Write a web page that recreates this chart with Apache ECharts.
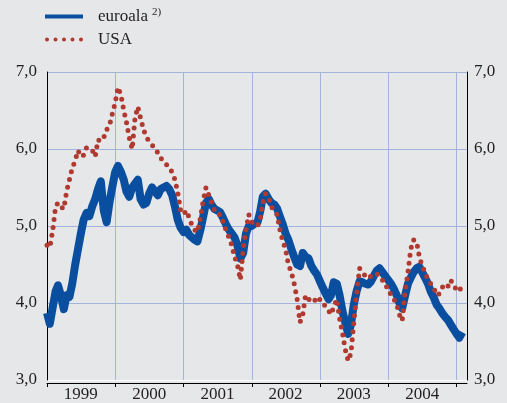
<!DOCTYPE html>
<html><head><meta charset="utf-8">
<script src="https://cdn.jsdelivr.net/npm/echarts@6/dist/echarts.min.js"></script>
<style>html,body{margin:0;padding:0;background:#e6e7e9}#c{width:507px;height:403px}</style>
</head><body><div id="c"></div><script>
// Semimonthly samples (1st and 16th of each month), starting 1999-01-01
const startYear = 1999;
const yearLabels = ['1999','2000','2001','2002','2003','2004'];
const yTicks = [3,4,5,6,7];
const euroala = [
 3.87,3.73,3.95,4.15,4.23,4.10,3.92,4.10,4.08,4.25,4.50,4.70,4.90,5.08,5.17,5.13,5.26,5.35,5.48,5.58,5.20,5.05,5.30,5.50,
 5.70,5.78,5.70,5.60,5.45,5.38,5.50,5.55,5.60,5.35,5.28,5.30,5.42,5.50,5.45,5.40,5.48,5.50,5.52,5.48,5.40,5.25,5.08,4.98,
 4.92,4.95,4.88,4.85,4.82,4.80,4.95,5.12,5.30,5.35,5.27,5.22,5.20,5.18,5.10,5.02,4.95,4.90,4.85,4.75,4.58,4.65,4.90,5.00,
 5.00,5.03,5.05,5.20,5.38,5.42,5.35,5.30,5.28,5.23,5.12,5.02,4.90,4.82,4.70,4.60,4.50,4.48,4.65,4.60,4.58,4.48,4.42,4.37,
 4.28,4.20,4.12,4.05,4.10,4.27,4.25,4.10,3.90,3.75,3.60,3.72,3.98,4.15,4.28,4.27,4.25,4.24,4.28,4.35,4.42,4.45,4.40,4.35,
 4.30,4.25,4.18,4.10,4.00,3.93,4.10,4.25,4.33,4.40,4.45,4.47,4.40,4.33,4.25,4.15,4.07,3.98,3.93,3.87,3.82,3.78,3.72,3.66,
 3.60,3.55,3.62
];
const usa = [
 4.75,4.72,4.95,5.25,5.30,5.25,5.22,5.45,5.60,5.75,5.85,5.98,5.90,5.92,6.02,6.00,5.98,5.90,6.12,6.10,6.15,6.25,6.30,6.45,
 6.60,6.80,6.70,6.50,6.35,6.15,6.00,6.40,6.55,6.40,6.25,6.15,6.10,6.05,6.02,5.95,5.88,5.85,5.80,5.75,5.70,5.60,5.43,5.20,
 5.15,5.20,5.10,5.00,4.95,4.92,5.10,5.33,5.50,5.40,5.30,5.20,5.15,5.15,5.05,4.95,4.85,4.75,4.60,4.50,4.30,4.70,4.95,5.15,
 5.05,5.02,5.00,5.10,5.30,5.42,5.38,5.25,5.20,5.15,4.95,4.80,4.70,4.50,4.40,4.25,4.05,3.75,3.85,4.10,4.05,4.02,4.05,4.00,
 4.05,4.00,3.95,3.90,3.85,3.95,4.05,3.80,3.62,3.40,3.25,3.35,3.75,4.10,4.45,4.40,4.35,4.32,4.35,4.38,4.38,4.35,4.30,4.22,
 4.20,4.10,4.05,3.98,3.85,3.77,4.15,4.40,4.70,4.82,4.80,4.60,4.48,4.40,4.30,4.25,4.20,4.10,4.12,4.20,4.25,4.22,4.30,4.22,
 4.18,4.15,4.25
];

const dates = euroala.map((_, i) => Date.UTC(startYear + Math.floor(i / 24), Math.floor((i % 24) / 2), i % 2 ? 16 : 1));
const pair = arr => arr.map((v, i) => [dates[i], v]);
const tickVals = yearLabels.map(y => Date.UTC(+y, 0, 1)).concat([Date.UTC(2005, 0, 1)]);
const labelVals = yearLabels.map(y => Date.UTC(+y, 6, 1));

const FONT = 'Liberation Serif';
const TXT = '#231f20';
const GRIDC = '#a3b3dd';
const BLUE = '#0a4f9f';
const RED = '#b03a30';
const dotsIcon = 'path://M0,2a2,2 0 1,0 4,0a2,2 0 1,0 -4,0z M8.5,2a2,2 0 1,0 4,0a2,2 0 1,0 -4,0z M17,2a2,2 0 1,0 4,0a2,2 0 1,0 -4,0z M25.5,2a2,2 0 1,0 4,0a2,2 0 1,0 -4,0z M34,2a2,2 0 1,0 4,0a2,2 0 1,0 -4,0z';

const chart = echarts.init(document.getElementById('c'), null, {renderer: 'canvas'});
chart.setOption({
  backgroundColor: '#e6e7e9',
  animation: false,
  legend: {
    orient: 'vertical', left: 40, top: 2, itemWidth: 38, itemHeight: 4, itemGap: 6,
    data: [{name: 'euroala', icon: 'rect'}, {name: 'USA', icon: dotsIcon}],
    formatter: n => n === 'euroala' ? '{a|euroala}{s|2)}' : '{a|USA}',
    textStyle: {
      rich: {
        a: {fontFamily: FONT, fontSize: 17, color: TXT, padding: [0, 0, 0, 10]},
        s: {fontFamily: FONT, fontSize: 11, color: TXT, padding: [0, 0, 8, 4]}
      }
    }
  },
  grid: {left: 47, right: 40, top: 72, bottom: 23},
  xAxis: {
    type: 'value',
    min: Date.UTC(1999, 0, 1),
    max: Date.UTC(2005, 1, 26),
    offset: 3,
    axisLine: {show: true, lineStyle: {color: '#000', width: 1}},
    axisTick: {show: true, customValues: tickVals, length: 4, inside: false, lineStyle: {color: '#000'}},
    axisLabel: {customValues: labelVals, formatter: v => String(new Date(v).getUTCFullYear()),
      fontFamily: FONT, fontSize: 17, color: TXT, margin: 3, showMinLabel: true, showMaxLabel: true},
    splitLine: {show: true, lineStyle: {color: GRIDC, width: 1}}
  },
  yAxis: [{
    type: 'value', min: 3, max: 7, interval: 1, position: 'left',
    axisLine: {show: true, lineStyle: {color: '#000', width: 1}},
    axisTick: {show: false},
    axisLabel: {formatter: v => v.toFixed(1).replace('.', ','), margin: 10, fontFamily: FONT, fontSize: 17, color: TXT},
    splitLine: {show: true, lineStyle: {color: ['#ffffff', GRIDC, GRIDC, GRIDC, GRIDC], width: 1}}
  }, {
    type: 'value', min: 3, max: 7, interval: 1, position: 'right',
    axisLine: {show: true, lineStyle: {color: '#000', width: 1}},
    axisTick: {show: false},
    axisLabel: {formatter: v => v.toFixed(1).replace('.', ','), margin: 7, fontFamily: FONT, fontSize: 17, color: TXT},
    splitLine: {show: false}
  }],
  series: [{
    name: 'euroala', type: 'line', symbol: 'none', data: pair(euroala),
    lineStyle: {color: BLUE, width: 8, join: 'round'}, itemStyle: {color: BLUE}, z: 2
  }, {
    name: 'USA', type: 'line', symbol: 'none', data: pair(usa),
    lineStyle: {color: RED, width: 5, type: [0, 8], cap: 'round', join: 'round'}, itemStyle: {color: RED}, z: 3
  }]
});
</script></body></html>
